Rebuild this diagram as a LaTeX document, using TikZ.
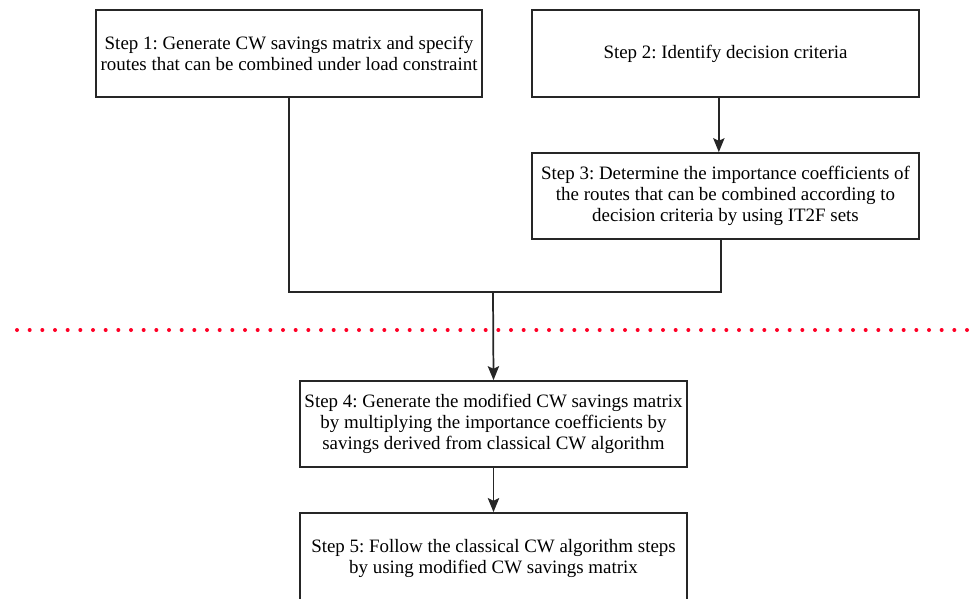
\documentclass[tikz,border=0pt]{standalone}
\usepackage{fontspec}
\setmainfont{Liberation Serif}
\usepackage{tikz}
\usetikzlibrary{arrows}
\usetikzlibrary{arrows.meta}
\usetikzlibrary{positioning}

\begin{document}
\frenchspacing
\begin{tikzpicture}
        [x=0.75pt,y=-0.75pt,
        stepbox/.style={rectangle,draw=black!85,line width=1.3pt,minimum width=290pt,minimum height=65pt,inner sep=1.5pt,align=center,font=\fontsize{14.2}{15.75}\selectfont},
        flow/.style={->,>={Stealth[length=10.5pt,width=8.5pt,inset=2pt]},line width=1.3pt,draw=black!85},
        merger/.style={-,line width=1.3pt,draw=black!85},
        cutline/.style={red!85!magenta,line width=3pt,line cap=round,dash pattern=on 0pt off 9.5pt}]

\useasboundingbox (0,0) rectangle (974,599);

% steps
\node[stepbox] at (289,53.5) (step1) {Step 1: Generate CW savings matrix and specify\\routes that can be combined under load constraint};

\node[stepbox] at (725.5,53.5) (step2) {Step 2: Identify decision criteria};

\node[stepbox,minimum height=64.5pt] at (725.5,196) (step3) {Step 3: Determine the importance coefficients of\\the routes that can be combined according to\\decision criteria by using IT2F sets};

\node[stepbox,minimum height=64.5pt] at (493.5,424) (step4) {Step 4: Generate the modified CW savings matrix\\by multiplying the importance coefficients by\\savings derived from classical CW algorithm};

\node[stepbox,minimum height=67.5pt] at (493.5,558) (step5) {Step 5: Follow the classical CW algorithm steps\\by using modified CW savings matrix};

\coordinate (merge) at (493,292);
\coordinate (cutleft) at (17,330);
\coordinate (cutright) at (974,330);

% separator
\draw[cutline] (cutleft) -- (cutright);

%arrows
\draw[flow] ([xshift=-5pt]step2.south) -- ([xshift=-5pt]step3.north);
\draw[merger] (step1.south) |- (merge) -| ([xshift=-3.5pt]step3.south);
\draw[flow] (merge) -- (step4.north);
\draw[flow] (step4.south) -- (step5.north);

\end{tikzpicture}
\end{document}
